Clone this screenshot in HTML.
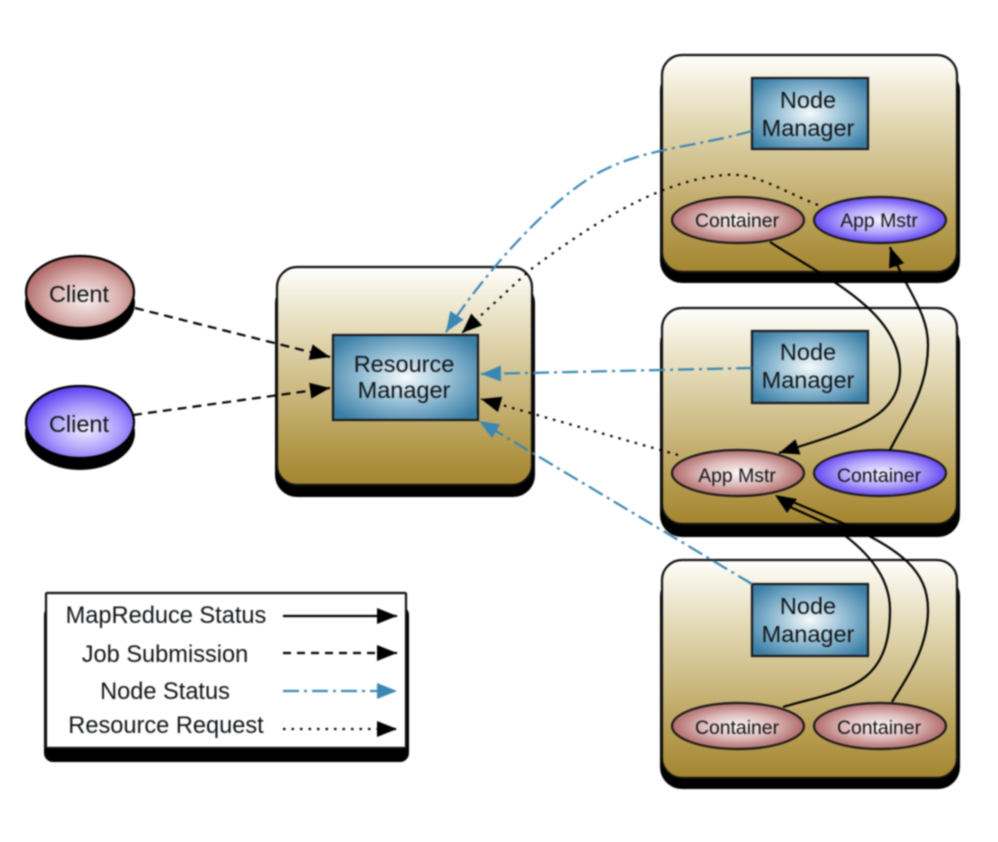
<!DOCTYPE html>
<html><head><meta charset="utf-8"><style>
html,body{margin:0;padding:0;background:#fff;width:998px;height:842px;overflow:hidden}
svg{display:block;filter:blur(.8px)}
text{font-family:"Liberation Sans",sans-serif;fill:#111417;text-anchor:middle}
.nm{font-size:23.5px}.el{font-size:19.4px}.lg{font-size:23.6px}
.box{fill:url(#tan);stroke:#111;stroke-width:2.2}
.sh{fill:#000}
.rect{fill:url(#bl);stroke:#1a1a1a;stroke-width:2.2}
.e{stroke:#1a1a1a;stroke-width:2.2}
.ln{fill:none;stroke-width:2.2}
</style></head><body>
<svg width="998" height="842" viewBox="0 0 998 842" xmlns="http://www.w3.org/2000/svg">
<defs>
<linearGradient id="tan" x1="0" y1="0" x2="0" y2="1"><stop offset="0" stop-color="#fff"/><stop offset=".07" stop-color="#f8f5ea"/><stop offset=".3" stop-color="#e3d9b6"/><stop offset=".55" stop-color="#cdbb84"/><stop offset=".8" stop-color="#b59c50"/><stop offset="1" stop-color="#a3842f"/></linearGradient>
<radialGradient id="bl" cx=".5" cy=".5" r=".62"><stop offset="0" stop-color="#f6fafc"/><stop offset=".45" stop-color="#9cc3d8"/><stop offset="1" stop-color="#3a7ea6"/></radialGradient>
<radialGradient id="rd" cx=".5" cy=".5" r=".55"><stop offset="0" stop-color="#fbf6f6"/><stop offset=".5" stop-color="#dcb9b8"/><stop offset="1" stop-color="#a65a5a"/></radialGradient>
<radialGradient id="pu" cx=".5" cy=".5" r=".55"><stop offset="0" stop-color="#f4f1ff"/><stop offset=".5" stop-color="#b5a6fb"/><stop offset="1" stop-color="#5233ee"/></radialGradient>
<radialGradient id="crd" cx=".55" cy=".6" r=".6"><stop offset="0" stop-color="#f8f0ef"/><stop offset=".55" stop-color="#d8afad"/><stop offset="1" stop-color="#ad6462"/></radialGradient>
<radialGradient id="cpu" cx=".55" cy=".6" r=".6"><stop offset="0" stop-color="#f1eeff"/><stop offset=".55" stop-color="#a899fb"/><stop offset="1" stop-color="#5a3df0"/></radialGradient>
<marker id="ak" markerUnits="userSpaceOnUse" markerWidth="22" markerHeight="18" refX="20" refY="8" orient="auto"><path d="M0 0L20 8L0 16Z" fill="#000"/></marker>
<marker id="ab" markerUnits="userSpaceOnUse" markerWidth="22" markerHeight="18" refX="20" refY="8" orient="auto"><path d="M0 0L20 8L0 16Z" fill="#3b87b3"/></marker>
</defs>

<!-- shadows -->
<rect class="sh" x="660" y="68" width="300" height="215" rx="22"/>
<rect class="sh" x="660" y="321" width="300" height="216" rx="22"/>
<rect class="sh" x="660" y="574" width="300" height="215" rx="22"/>
<rect class="sh" x="275" y="281" width="260" height="216" rx="22"/>
<rect class="sh" x="44" y="606" width="365" height="156" rx="9"/>
<ellipse class="sh" cx="80" cy="303" rx="55" ry="37"/>
<ellipse class="sh" cx="80" cy="433" rx="55" ry="37"/>

<!-- boxes -->
<rect class="box" x="662" y="55" width="295" height="217" rx="20"/>
<rect class="box" x="662" y="308" width="295" height="216" rx="20"/>
<rect class="box" x="662" y="560" width="295" height="218" rx="20"/>
<rect class="box" x="277" y="267" width="255" height="218" rx="20"/>
<rect x="46" y="593" width="360" height="155" rx="1" fill="#fff" stroke="#111" stroke-width="2.2"/>

<!-- rects -->
<rect class="rect" x="752" y="78" width="116" height="71"/>
<rect class="rect" x="752" y="331" width="116" height="72"/>
<rect class="rect" x="752" y="584" width="116" height="72"/>
<rect class="rect" x="333" y="335" width="145" height="85"/>

<!-- ellipses -->
<ellipse class="e" cx="738" cy="220" rx="66" ry="23" fill="url(#rd)"/>
<ellipse class="e" cx="880" cy="220" rx="66" ry="23" fill="url(#pu)"/>
<ellipse class="e" cx="738" cy="473" rx="66" ry="23" fill="url(#rd)"/>
<ellipse class="e" cx="880" cy="473" rx="66" ry="23" fill="url(#pu)"/>
<ellipse class="e" cx="738" cy="726" rx="66" ry="23" fill="url(#rd)"/>
<ellipse class="e" cx="880" cy="726" rx="66" ry="23" fill="url(#rd)"/>
<ellipse cx="80" cy="292" rx="54" ry="36" fill="url(#crd)" stroke="#000" stroke-width="2.2"/>
<ellipse cx="80" cy="422" rx="54" ry="36" fill="url(#cpu)" stroke="#000" stroke-width="2.2"/>

<!-- connectors -->
<path class="ln" d="M135 308L330 357" stroke="#000" stroke-dasharray="9 6" marker-end="url(#ak)"/>
<path class="ln" d="M133 415L330 388" stroke="#000" stroke-dasharray="9 6" marker-end="url(#ak)"/>
<path class="ln" d="M752 131C695 147 645 148 600 172C555 196 490 265 446 332" stroke="#3b87b3" stroke-width="2.4" stroke-dasharray="16 5 3 5" marker-end="url(#ab)"/>
<path class="ln" d="M818 205C780 190 755 172 725 175C660 180 590 225 530 270L462 333" stroke="#000" stroke-dasharray="2.5 6" marker-end="url(#ak)"/>
<path class="ln" d="M752 368L481 374" stroke="#3b87b3" stroke-width="2.4" stroke-dasharray="16 5 3 5" marker-end="url(#ab)"/>
<path class="ln" d="M678 455L481 399" stroke="#000" stroke-dasharray="2.5 6" marker-end="url(#ak)"/>
<path class="ln" d="M752 584L479 421" stroke="#3b87b3" stroke-width="2.4" stroke-dasharray="16 5 3 5" marker-end="url(#ab)"/>
<path class="ln" d="M770 242C820 275 900 310 900 370C900 420 850 430 779 453" stroke="#000" marker-end="url(#ak)"/>
<path class="ln" d="M890 450C905 420 928 390 928 345C928 310 905 290 890 247" stroke="#000" marker-end="url(#ak)"/>
<path class="ln" d="M783 707C840 690 890 690 890 610C890 575 865 548 830 525L788 506" stroke="#000"/>
<path class="ln" d="M892 702C905 680 928 650 928 610C928 570 900 550 847 525L793 502" stroke="#000"/>
<path d="M775 495L797 499L787 513Z" fill="#000"/>

<!-- legend lines -->
<path class="ln" d="M283 616L397 616" stroke="#000" marker-end="url(#ak)"/>
<path class="ln" d="M283 653L397 653" stroke="#000" stroke-dasharray="8 6" marker-end="url(#ak)"/>
<path class="ln" d="M283 691L397 691" stroke="#3b87b3" stroke-dasharray="16 5 3 5" marker-end="url(#ab)"/>
<path class="ln" d="M283 729L397 729" stroke="#000" stroke-dasharray="2.5 6" marker-end="url(#ak)"/>

<!-- text -->
<text class="nm" x="808" y="108">Node</text><text class="nm" x="808" y="136">Manager</text>
<text class="nm" x="808" y="360">Node</text><text class="nm" x="808" y="388">Manager</text>
<text class="nm" x="808" y="614">Node</text><text class="nm" x="808" y="642">Manager</text>
<text class="nm" x="404" y="372">Resource</text><text class="nm" x="404" y="398">Manager</text>
<text class="nm" x="79" y="302">Client</text><text class="nm" x="79" y="432">Client</text>
<text class="el" x="737" y="227">Container</text><text class="el" x="879" y="227">App Mstr</text>
<text class="el" x="737" y="482">App Mstr</text><text class="el" x="879" y="482">Container</text>
<text class="el" x="737" y="734">Container</text><text class="el" x="879" y="734">Container</text>
<text class="lg" x="166" y="623">MapReduce Status</text>
<text class="lg" x="165" y="662">Job Submission</text>
<text class="lg" x="165" y="699">Node Status</text>
<text class="lg" x="166" y="733">Resource Request</text>
</svg>
</body></html>
